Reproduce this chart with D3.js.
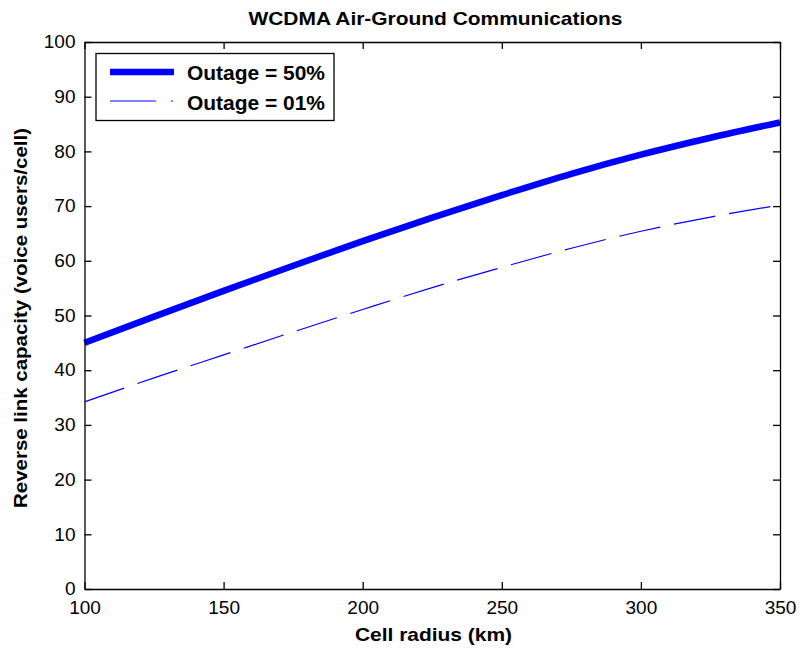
<!DOCTYPE html>
<html lang="en">
<head>
    <meta charset="UTF-8">
    <title>WCDMA Air-Ground Communications</title>
    <style>
        body { margin: 0; background: #fff; }
        svg text { font-family: "Liberation Sans", Arial, sans-serif; fill: #000; }
    </style>
</head>
<body>
    <div id="chart"></div>
    <script src="https://cdn.jsdelivr.net/npm/d3@7"></script>
    <script>
        // values
        const radius   = [100, 125, 150, 175, 200, 225, 250, 275, 300, 325, 350];
        const outage50 = [45.0, 49.8, 54.5, 59.1, 63.6, 67.9, 72.0, 75.9, 79.4, 82.5, 85.3];
        const outage01 = [34.2, 38.6, 42.8, 47.0, 51.1, 55.1, 58.8, 62.3, 65.4, 68.0, 70.2];
        const xTicks   = [100, 150, 200, 250, 300, 350];
        const yTicks   = [0, 10, 20, 30, 40, 50, 60, 70, 80, 90, 100];
        const legendLabels = ["Outage = 50%", "Outage = 01%"];

        const width = 802, height = 650;
        const m = {left: 84.5, right: 22, top: 42, bottom: 61};
        const blue = "#0000ff";

        const x = d3.scaleLinear().domain([100, 350]).range([m.left, width - m.right]);
        const y = d3.scaleLinear().domain([0, 100]).range([height - m.bottom, m.top]);

        const svg = d3.select("#chart").append("svg")
            .attr("width", width).attr("height", height);

        const line = d3.line().curve(d3.curveMonotoneX)
            .x(d => x(d[0])).y(d => y(d[1]));

        svg.append("path")
            .datum(radius.map((r, i) => [r, outage01[i]]))
            .attr("d", line)
            .attr("fill", "none").attr("stroke", blue).attr("stroke-width", 1.2)
            .attr("stroke-dasharray", "42,14");

        svg.append("path")
            .datum(radius.map((r, i) => [r, outage50[i]]))
            .attr("d", line)
            .attr("fill", "none").attr("stroke", blue).attr("stroke-width", 6.5);

        // axes, ticks inside on all four sides
        const tick = 7;
        const fmt = d3.format("d");
        const axBottom = svg.append("g").attr("transform", `translate(0,${y(0)})`)
            .call(d3.axisBottom(x).tickValues(xTicks).tickSizeInner(-tick).tickSizeOuter(0).tickPadding(11).tickFormat(fmt));
        const axLeft = svg.append("g").attr("transform", `translate(${x(100)},0)`)
            .call(d3.axisLeft(y).tickValues(yTicks).tickSizeInner(-tick).tickSizeOuter(0).tickPadding(9).tickFormat(fmt));
        const axTop = svg.append("g").attr("transform", `translate(0,${y(100)})`)
            .call(d3.axisTop(x).tickValues(xTicks).tickSizeInner(-tick).tickSizeOuter(0).tickFormat(""));
        const axRight = svg.append("g").attr("transform", `translate(${x(350)},0)`)
            .call(d3.axisRight(y).tickValues(yTicks).tickSizeInner(-tick).tickSizeOuter(0).tickFormat(""));

        [axBottom, axLeft, axTop, axRight].forEach(g => {
            g.selectAll("path, line").attr("stroke", "#000").attr("stroke-width", 1.3);
            g.selectAll("text").style("font-size", "19px").attr("fill", "#000");
        });
        axBottom.selectAll("text").attr("dy", "0.72em");
        axLeft.selectAll("text").attr("dy", "0.3em");

        // titles
        svg.append("text").attr("x", 435.5).attr("y", 25)
            .attr("text-anchor", "middle").style("font-size", "19px").style("font-weight", "bold")
            .attr("textLength", 374).attr("lengthAdjust", "spacingAndGlyphs")
            .text("WCDMA Air-Ground Communications");
        svg.append("text").attr("x", 433.5).attr("y", 641)
            .attr("text-anchor", "middle").style("font-size", "19px").style("font-weight", "bold")
            .attr("textLength", 157).attr("lengthAdjust", "spacingAndGlyphs")
            .text("Cell radius (km)");
        svg.append("text")
            .attr("transform", `translate(27,318) rotate(-90)`)
            .attr("text-anchor", "middle").style("font-size", "19px").style("font-weight", "bold")
            .attr("textLength", 380).attr("lengthAdjust", "spacingAndGlyphs")
            .text("Reverse link capacity (voice users/cell)");

        // legend
        const lg = svg.append("g");
        lg.append("rect").attr("x", 96).attr("y", 53.5).attr("width", 238).attr("height", 67)
            .attr("fill", "#fff").attr("stroke", "#000").attr("stroke-width", 1.3);
        lg.append("line").attr("x1", 110).attr("x2", 174).attr("y1", 72).attr("y2", 72)
            .attr("stroke", blue).attr("stroke-width", 6.5);
        lg.append("line").attr("x1", 110).attr("x2", 174).attr("y1", 101).attr("y2", 101)
            .attr("stroke", blue).attr("stroke-width", 1.2).attr("stroke-dasharray", "46,15,2,20");
        legendLabels.forEach((t, i) => {
            lg.append("text").attr("x", 187).attr("y", 80 + i * 30)
                .style("font-size", "20px").style("font-weight", "bold")
                .attr("textLength", 138).attr("lengthAdjust", "spacingAndGlyphs")
                .text(t);
        });
    </script>
</body>
</html>
